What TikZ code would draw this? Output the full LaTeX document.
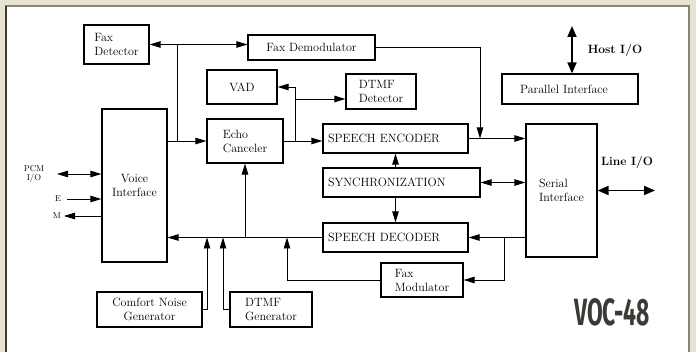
\documentclass[tikz,border=0pt]{standalone}
\usepackage{fontspec}
\newfontfamily\vocfont{Fira Sans}
\usetikzlibrary{arrows.meta}

\definecolor{pagebg}{HTML}{E6E3D0}
\definecolor{rimgray}{HTML}{85857D}
\definecolor{rimdark}{HTML}{3A3A36}
\newcommand{\boxfont}{\fontsize{12}{14}\selectfont}
\newcommand{\tinyfont}{\fontsize{8.5}{9.5}\selectfont}

\begin{document}
\begin{tikzpicture}[x=1pt,y=1pt,yscale=-1,
  blk/.style={draw, line width=1.2pt, inner sep=0pt, align=center, font=\boxfont},
  capbox/.style={draw, line width=1.2pt, inner xsep=5pt, inner ysep=0pt, minimum height=29, text width=#1, align=left, font=\boxfont},
  wire/.style={line width=0.9pt},
  arr/.style={wire, -{Triangle[length=11pt,width=6.5pt]}},
  biarr/.style={wire, {Triangle[length=11pt,width=6.5pt]}-{Triangle[length=11pt,width=6.5pt]}},
  bigarr/.style={line width=1.8pt, {Triangle[length=11pt,width=9pt]}-{Triangle[length=11pt,width=9pt]}},
  iolabel/.style={font=\boxfont\bfseries}]
\useasboundingbox (0,0) rectangle (696,352);

% panel
\fill[pagebg] (0,0) rectangle (696,352);
\fill[white] (6,6) rectangle (689,352);
\draw[rimgray, line width=2pt] (5,6) -- (689,6) -- (689,352);
\draw[rimdark, line width=2pt] (6,6) -- (6,352);

% blocks
\node[blk, minimum width=65, minimum height=39, align=left] (faxdet) at (116.5,44.5) {Fax\\Detector};
\node[blk, minimum width=127, minimum height=25] (faxdemod) at (311.5,47.5) {Fax Demodulator};
\node[blk, minimum width=70, minimum height=34] (vad) at (242,87) {VAD};
\node[blk, minimum width=70, minimum height=35, align=left] (dtmfdet) at (381,91.5) {DTMF\\Detector};
\node[blk, minimum width=76, minimum height=44, align=left] (echo) at (245,141) {Echo\\Canceler};
\node[blk, minimum width=65, minimum height=153] (voice) at (134.5,185.5) {Voice\\Interface};
\node[capbox=135] (enc) at (395.5,138.5) {SPEECH ENCODER};
\node[capbox=147] (sync) at (401.5,182.5) {SYNCHRONIZATION};
\node[capbox=135] (dec) at (395.5,237.5) {SPEECH DECODER};
\node[blk, minimum width=136, minimum height=30] (par) at (570,89) {Parallel Interface\hspace{12pt}};
\node[blk, minimum width=71, minimum height=133, align=left] (serial) at (561.5,190.5) {Serial\\Interface};
\node[blk, minimum width=82, minimum height=34, align=left] (faxmod) at (422,280) {Fax\\Modulator};
\node[blk, minimum width=105, minimum height=35] (cng) at (149.5,309.5) {Comfort Noise\\Generator};
\node[blk, minimum width=82, minimum height=35, align=left] (dtmfgen) at (271,309.5) {DTMF\\Generator};

% free ends and junctions
\coordinate (j1) at (177,44.5);
\coordinate (j2) at (295,141);
\coordinate (j3) at (295,99);
\coordinate (j4) at (480,138.5);
\coordinate (j5) at (504,237.5);
\coordinate (j7) at (207,237.5);
\coordinate (j8) at (223,237.5);
\coordinate (j9) at (287,237.5);
\coordinate (hostio) at (572,26);
\coordinate (lineio) at (655,190.5);
\coordinate (pcm) at (57,174);
\coordinate (ein) at (67,199);
\coordinate (mout) at (64,216);

% connectors
\draw[biarr] (faxdet.east) -- (faxdet.east -| faxdemod.west);
\draw[wire] (j1) -- (j1 |- echo.west);
\draw[arr] (voice.east |- echo.west) -- (echo.west);
\draw[arr] (echo.east) -- (echo.east -| enc.west);
\draw[arr] (j2) |- (vad.east);
\draw[arr] (j3) -- (j3 -| dtmfdet.west);
\draw[arr] (faxdemod.east) -| (j4);
\draw[arr] (enc.east) -- (enc.east -| serial.west);
\draw[arr] (sync.north -| enc.south) -- (enc.south);
\draw[arr] (sync.south -| dec.north) -- (dec.north);
\draw[biarr] (sync.east) -- (sync.east -| serial.west);
\draw[arr] (serial.west |- dec.east) -- (dec.east);
\draw[arr] (j5) |- (faxmod.east);
\draw[arr] (dec.west) -- (dec.west -| voice.east);
\draw[arr] (dec.west -| echo.south) -- (echo.south);
\draw[arr] (cng.east) -| (j7);
\draw[arr] (dtmfgen.west) -| (j8);
\draw[arr] (faxmod.west) -| (j9);
\draw[bigarr] (hostio) -- (hostio |- par.north);
\draw[bigarr] (serial.east) -- (lineio);
\draw[biarr] (pcm) -- (pcm -| voice.west);
\draw[arr] (ein) -- (ein -| voice.west);
\draw[arr] (mout -| voice.west) -- (mout);

% labels
\node[font=\tinyfont, align=center] (pcmlbl) at (34,174) {PCM\\I/O};
\node[font=\tinyfont] (elbl) at (58,199) {E};
\node[font=\tinyfont] (mlbl) at (57,216) {M};
\node[iolabel] (hostlbl) at (615,51) {Host I/O};
\node[iolabel] (linelbl) at (627,163) {Line I/O};
\node[text=rimdark, font=\vocfont\bfseries\fontsize{38}{40}\selectfont] (voc) at (612,312) {\scalebox{0.6}[1]{VOC-48}};
\end{tikzpicture}
\end{document}
